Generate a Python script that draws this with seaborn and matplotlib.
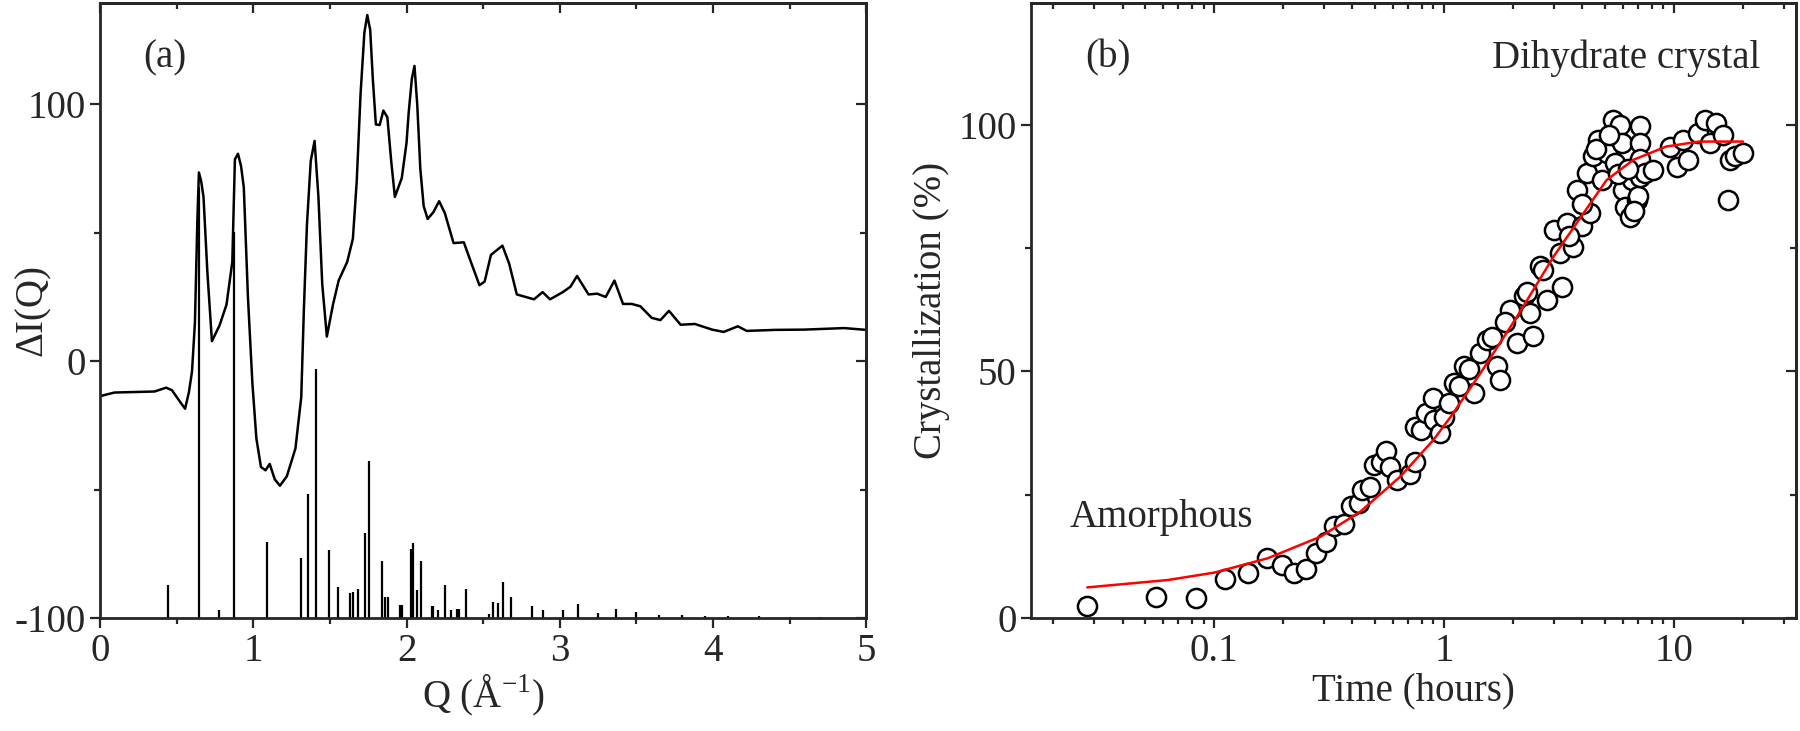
import numpy as np
import pandas as pd
import matplotlib
matplotlib.use("Agg")
import matplotlib.pyplot as plt
import seaborn as sns

# ---- panel (a): difference curve and Bragg sticks ----
q_curve = [0.0, 0.094, 0.356, 0.431, 0.469, 0.53, 0.555, 0.58, 0.6, 0.619, 0.635, 0.645, 0.66, 0.675,
           0.7, 0.73, 0.78, 0.825, 0.863, 0.88, 0.9, 0.92, 0.938, 0.965, 0.994, 1.02, 1.05, 1.08, 1.107,
           1.14, 1.174, 1.219, 1.275, 1.313, 1.33, 1.35, 1.375, 1.4, 1.425, 1.45, 1.48, 1.52, 1.557,
           1.613, 1.65, 1.675, 1.7, 1.725, 1.744, 1.763, 1.78, 1.8, 1.825, 1.849, 1.875, 1.9, 1.924,
           1.969, 2.0, 2.014, 2.035, 2.052, 2.07, 2.09, 2.112, 2.138, 2.175, 2.213, 2.25, 2.307,
           2.374, 2.42, 2.476, 2.51, 2.551, 2.626, 2.67, 2.72, 2.832, 2.888, 2.937, 3.02, 3.07,
           3.113, 3.188, 3.245, 3.3, 3.357, 3.413, 3.47, 3.526, 3.6, 3.657, 3.713, 3.789, 3.882,
           3.995, 4.07, 4.163, 4.22, 4.407, 4.595, 4.857, 5.0]
dI_curve = [-13.6, -12.2, -11.8, -10.3, -11.3, -16.5, -18.5, -12.0, -4.0, 15.0, 55.0, 73.5, 70.0, 64.0,
            35.0, 7.8, 14.0, 22.0, 38.7, 78.6, 80.8, 76.0, 67.7, 25.0, -8.5, -30.0, -41.2, -42.5, -40.0,
            -46.0, -48.5, -44.8, -34.0, -14.0, 20.0, 53.0, 78.0, 85.8, 64.0, 30.0, 9.6, 22.0, 31.4,
            38.7, 47.7, 70.0, 104.0, 128.0, 134.8, 129.0, 110.0, 92.2, 92.0, 97.6, 95.0, 78.0, 64.0,
            71.3, 85.0, 96.7, 110.0, 115.0, 100.0, 75.0, 60.4, 55.4, 58.0, 62.3, 57.7, 46.0,
            46.3, 38.7, 29.6, 31.0, 41.4, 45.0, 38.0, 26.0, 24.1, 26.9, 24.1, 26.9, 29.0,
            33.2, 26.0, 26.3, 25.0, 31.4, 22.3, 22.3, 21.4, 16.9, 16.0, 19.6, 14.2, 14.5,
            12.3, 11.4, 13.6, 11.8, 12.2, 12.3, 12.9, 12.2]

q_sticks = [0.442, 0.645, 0.779, 0.874, 1.092, 1.31, 1.36, 1.41, 1.495, 1.556, 1.632, 1.654,
            1.682, 1.73, 1.754, 1.838, 1.86, 1.882, 1.958, 1.97, 2.03, 2.043, 2.071, 2.093,
            2.165, 2.176, 2.208, 2.252, 2.289, 2.328, 2.343, 2.387, 2.541, 2.567, 2.6, 2.628,
            2.683, 2.822, 2.89, 3.024, 3.12, 3.25, 3.37, 3.5, 3.65, 3.8, 3.95, 4.1, 4.3, 4.5, 4.7]
stick_top = [-87.1, 68.0, -96.9, 50.4, -70.3, -76.7, -51.8, -3.0, -73.5, -88.0, -90.1, -90.0,
             -88.8, -67.0, -38.9, -77.8, -91.7, -92.0, -95.0, -95.0, -73.2, -70.9, -89.0, -77.8,
             -95.3, -95.3, -96.9, -87.1, -96.7, -96.5, -96.5, -88.8, -98.4, -93.7, -94.3, -85.9,
             -91.7, -95.3, -96.7, -96.7, -94.6, -98.0, -96.4, -97.5, -98.8, -99.0, -99.2, -99.3,
             -99.4, -99.5, -99.5]

# ---- panel (b): crystallization kinetics ----
t_hours = [0.0281, 0.0562, 0.0835, 0.1116, 0.14, 0.1693, 0.197, 0.223, 0.252, 0.277, 0.308, 0.333,
           0.367, 0.393, 0.427, 0.441, 0.475, 0.496, 0.53, 0.557, 0.58, 0.623, 0.711, 0.75, 0.752,
           0.791, 0.832, 0.898, 0.903, 0.966, 0.998, 1.104, 1.22, 1.346, 1.44, 1.54, 1.7, 1.757,
           1.94, 2.08, 2.22, 2.37, 2.45, 2.62, 2.8, 3.0, 3.2, 3.26, 3.42, 3.66, 3.78, 3.98, 4.18,
           4.32, 4.47, 4.7, 4.86, 5.1, 5.46, 5.55, 5.84, 5.94, 6.03, 6.13, 6.44, 6.55, 6.88, 7.0,
           7.11, 7.11, 7.11, 7.11, 7.48, 8.13, 9.6, 10.3, 10.96, 11.5, 12.7, 13.6, 14.3, 15.3,
           16.4, 17.2, 17.5, 18.4, 20.0,
           1.05, 1.16, 1.28, 1.62, 1.85, 2.3, 2.7, 3.5, 4.0, 4.6, 5.2, 5.7, 6.3, 6.7]
cryst_pct = [2.5, 4.2, 4.0, 7.9, 9.1, 12.1, 10.75, 9.2, 9.9, 13.1, 15.4, 18.7,
             19.1, 22.8, 23.3, 26.0, 26.6, 31.0, 31.6, 33.9, 30.6, 28.0, 29.1, 38.8, 31.7,
             38.1, 41.5, 44.6, 40.2, 37.5, 40.8, 47.6, 51.0, 45.6, 53.7, 56.4, 51.0, 48.3,
             62.5, 55.7, 65.2, 61.8, 57.1, 71.3, 64.5, 78.7, 74.0, 67.2, 80.0, 75.3, 86.8, 79.4, 90.2,
             82.1, 93.6, 97.0, 88.8, 94.3, 101.0, 92.2, 100.0, 96.3, 86.8, 83.4, 81.4, 88.8, 84.8, 85.5,
             99.7, 96.3, 93.0, 89.5, 90.2, 90.9, 95.6, 91.5, 97.0, 92.9, 98.3, 101.0, 96.3, 100.3,
             98.0, 84.8, 92.9, 93.6, 94.3,
             43.5, 47.0, 50.5, 57.0, 60.0, 66.0, 70.5, 77.5, 84.0, 95.0, 98.0, 90.0, 91.0, 82.5]

t_fit = [0.0281, 0.063, 0.1003, 0.171, 0.291, 0.434, 0.647, 0.9, 1.07, 1.44, 2.08, 3.0, 4.05,
         5.1, 6.67, 9.28, 12.9, 20.0]
cryst_fit = [6.2, 7.7, 9.2, 12.1, 16.5, 21.6, 28.7, 36.1, 40.8, 49.6, 61.1, 73.3, 82.1,
             88.8, 92.9, 95.6, 96.6, 96.6]

sns.set_style("ticks")
plt.rcParams["font.family"] = ["Liberation Serif", "DejaVu Serif"]
plt.rcParams["mathtext.fontset"] = "custom"
plt.rcParams["mathtext.rm"] = "Liberation Serif"
plt.rcParams["axes.unicode_minus"] = False
plt.rcParams["axes.linewidth"] = 2.0
fs = 28

fig = plt.figure(figsize=(18, 7.31), dpi=100)
ax1 = fig.add_axes([0.0556, 0.1546, 0.4256, 0.8413])
ax2 = fig.add_axes([0.5728, 0.1546, 0.425, 0.8413])

# (a)
ax1.vlines(q_sticks, -100, stick_top, color="black", lw=1.6)
df_a = pd.DataFrame({"Q": q_curve, "dI": dI_curve})
sns.lineplot(data=df_a, x="Q", y="dI", ax=ax1, color="black", lw=1.8, sort=False, estimator=None)
ax1.set_xlim(0, 5)
ax1.set_ylim(-100, 139.5)
ax1.set_xticks([0, 1, 2, 3, 4, 5])
ax1.set_xticks(np.arange(0.5, 5, 1.0), minor=True)
ax1.set_yticks([-100, 0, 100])
ax1.set_yticks([-50, 50], minor=True)
ax1.set_xlabel(r"Q (Å$^{-1}$)", fontsize=fs, labelpad=2)
ax1.set_ylabel("ΔI(Q)", fontsize=fs)
ax1.yaxis.set_label_coords(-0.064, 0.5)
ax1.text(0.085, 0.91, "(a)", transform=ax1.transAxes, fontsize=fs, ha="center", va="center")

# (b)
df_b = pd.DataFrame({"t": t_hours, "c": cryst_pct})
sns.scatterplot(data=df_b, x="t", y="c", ax=ax2, s=190, facecolor="white",
                edgecolor="black", linewidth=1.8, zorder=2)
df_fit = pd.DataFrame({"t": t_fit, "c": cryst_fit})
sns.lineplot(data=df_fit, x="t", y="c", ax=ax2, color="red", lw=1.8, sort=False,
             estimator=None, zorder=3)
ax2.set_xscale("log")
ax2.set_xlim(0.016, 34)
ax2.set_ylim(0, 124.7)
ax2.set_xticks([0.1, 1, 10])
ax2.set_xticklabels(["0.1", "1", "10"])
ax2.set_yticks([0, 50, 100])
ax2.set_yticks([25, 75], minor=True)
ax2.set_xlabel("Time (hours)", fontsize=fs, labelpad=2)
ax2.set_ylabel("Crystallization (%)", fontsize=fs, labelpad=6)
ax2.text(0.10, 0.91, "(b)", transform=ax2.transAxes, fontsize=fs, ha="center", va="center")
ax2.text(0.953, 0.91, "Dihydrate crystal", transform=ax2.transAxes, fontsize=fs,
         ha="right", va="center")
ax2.text(0.051, 0.164, "Amorphous", transform=ax2.transAxes, fontsize=fs,
         ha="left", va="center")

for ax in (ax1, ax2):
    for sp in ax.spines.values():
        sp.set_visible(True)
        sp.set_linewidth(2.0)
    ax.tick_params(which="major", direction="out", length=7, width=1.6, labelsize=fs,
                   top=False, right=False)
    ax.tick_params(which="minor", direction="out", length=4, width=1.6,
                   top=False, right=False)
    ax.grid(False)

# inward ticks on the right and top edges
for ax in (ax1, ax2):
    sy = ax.secondary_yaxis("right")
    sy.set_yticks(ax.get_yticks())
    sy.set_yticks(ax.get_yticks(minor=True), minor=True)
    sy.tick_params(which="major", direction="in", length=7, width=1.6, labelright=False)
    sy.tick_params(which="minor", direction="in", length=4, width=1.6, labelright=False)
    sx = ax.secondary_xaxis("top")
    sx.set_xticks(ax.get_xticks())
    sx.tick_params(which="major", direction="in", length=7, width=1.6, labeltop=False)
    sx.tick_params(which="minor", direction="in", length=4, width=1.6, labeltop=False)
    if ax is ax1:
        sx.set_xticks(ax.get_xticks(minor=True), minor=True)

fig.savefig("out.png", dpi=100)
